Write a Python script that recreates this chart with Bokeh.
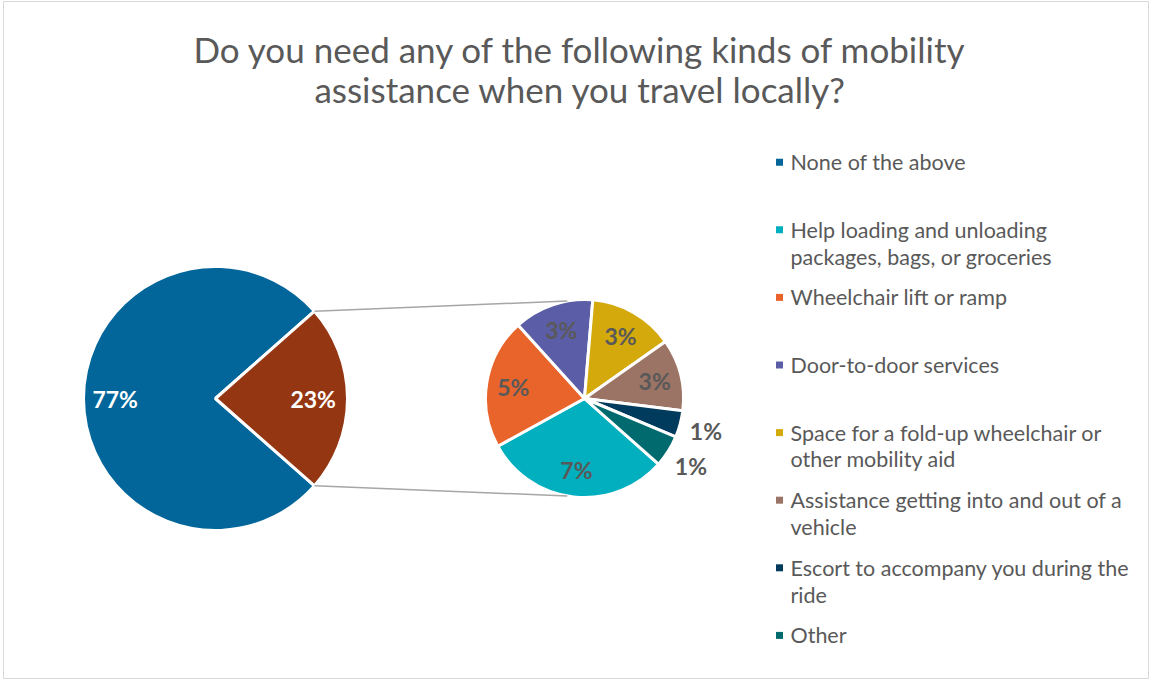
import numpy as np
from bokeh.plotting import figure
from bokeh.models import Range1d
from bokeh.embed import file_html
from bokeh.resources import INLINE
from bokeh.core.properties import value

# ---------------- data ----------------
title_lines = ["Do you need any of the following kinds of mobility",
               "assistance when you travel locally?"]
main_labels = ["None of the above", "Any kind of assistance"]
main_values = [77, 23]
main_colors = ["#03669a", "#943612"]

sub_labels = ["Help loading and unloading\npackages, bags, or groceries",
              "Wheelchair lift or ramp",
              "Door-to-door services",
              "Space for a fold-up wheelchair or\nother mobility aid",
              "Assistance getting into and out of a\nvehicle",
              "Escort to accompany you during the\nride",
              "Other"]
sub_values = [7.0, 4.9, 3.0, 3.2, 2.7, 1.0, 1.2]
sub_colors = ["#02afbf", "#e8642b", "#5b5ea6", "#d4a90c", "#9c7465", "#003a5c", "#006a6e"]

legend_labels = [main_labels[0]] + sub_labels
legend_colors = [main_colors[0]] + sub_colors

# ---------------- layout helpers ----------------
W, H = 1151, 681
def px(X):  # reference pixel x -> data x
    return X
def py(Y):  # reference pixel y -> data y
    return H - Y

FONT = "Lato"
GREY = "#595959"

p = figure(width=W, height=H, x_range=Range1d(0, W), y_range=Range1d(0, H),
           output_backend="svg", toolbar_location=None, min_border=0,
           x_axis_type=None, y_axis_type=None)
p.grid.visible = False
p.outline_line_color = None
p.background_fill_color = "white"
p.border_fill_color = "white"

# chart border
p.rect(x=[W / 2], y=[H / 2 + 1], width=W - 6, height=H - 4,
       fill_color=None, line_color="#d9d9d9", line_width=1)

# ---------------- title ----------------
p.text(x=[px(580), px(580)], y=[py(48), py(88)], text=title_lines,
       text_font=value(FONT), text_font_size="35px", text_color=GREY,
       text_align="center", text_baseline="middle")

# ---------------- main pie ----------------
cx1, cy1, r1 = px(215), py(398), 132
mtot = float(sum(main_values))
a_other = main_values[1] / mtot * 2 * np.pi
m_start = [a_other / 2, -a_other / 2]
m_end = [2 * np.pi - a_other / 2, a_other / 2]
p.wedge(x=cx1, y=cy1, radius=r1, start_angle=m_start, end_angle=m_end,
        fill_color=main_colors, line_color="white", line_width=3)
m_mid = [(s + e) / 2 for s, e in zip(m_start, m_end)]
m_r = [0.76 * r1, 0.74 * r1]
p.text(x=[cx1 + rr * np.cos(a) for rr, a in zip(m_r, m_mid)],
       y=[cy1 + rr * np.sin(a) for rr, a in zip(m_r, m_mid)],
       text=[f"{v:.0f}%" for v in main_values],
       text_font=value(FONT), text_font_size="23px", text_font_style="bold",
       text_color="white", text_align="center", text_baseline="middle")

# ---------------- secondary pie ----------------
cx2, cy2, r2 = px(584), py(398), 99
stot = float(sum(sub_values))
s0 = np.deg2rad(-41.6)
cum = np.cumsum([0] + sub_values) / stot * 2 * np.pi
s_start = [s0 - cum[i + 1] for i in range(len(sub_values))]
s_end = [s0 - cum[i] for i in range(len(sub_values))]
p.wedge(x=cx2, y=cy2, radius=r2, start_angle=s_start, end_angle=s_end,
        fill_color=sub_colors, line_color="white", line_width=3)
s_mid = [(s + e) / 2 for s, e in zip(s_start, s_end)]
s_r = [(0.73 if v >= 2 else 1.27) * r2 for v in sub_values]
p.text(x=[cx2 + rr * np.cos(a) for rr, a in zip(s_r, s_mid)],
       y=[cy2 + rr * np.sin(a) for rr, a in zip(s_r, s_mid)],
       text=[f"{v:.0f}%" for v in sub_values],
       text_font=value(FONT), text_font_size="23px", text_font_style="bold",
       text_color=GREY, text_align="center", text_baseline="middle")

# ---------------- connector lines ----------------
t_top, t_bot = np.deg2rad(100), np.deg2rad(260)
p.segment(x0=[cx1 + r1 * np.cos(a_other / 2), cx1 + r1 * np.cos(-a_other / 2)],
          y0=[cy1 + r1 * np.sin(a_other / 2), cy1 + r1 * np.sin(-a_other / 2)],
          x1=[cx2 + r2 * np.cos(t_top), cx2 + r2 * np.cos(t_bot)],
          y1=[cy2 + r2 * np.sin(t_top), cy2 + r2 * np.sin(t_bot)],
          line_color="#a6a6a6", line_width=1.5)

# ---------------- legend ----------------
leg_x_sq, leg_x_tx = px(779), px(790)
leg_y0, leg_dy, line_dy = 161.7, 67.6, 26.7
sq_x, sq_y, tx_x, tx_y, tx_t = [], [], [], [], []
for i, (lab, col) in enumerate(zip(legend_labels, legend_colors)):
    yy = leg_y0 + i * leg_dy
    sq_x.append(leg_x_sq)
    sq_y.append(py(yy))
    for j, line in enumerate(lab.split("\n")):
        tx_x.append(leg_x_tx)
        tx_y.append(py(yy + j * line_dy))
        tx_t.append(line)
p.rect(x=sq_x, y=sq_y, width=7, height=7, fill_color=legend_colors, line_color=None)
p.text(x=tx_x, y=tx_y, text=tx_t, text_font=value(FONT), text_font_size="21.5px",
       text_color=GREY, text_align="left", text_baseline="middle")

open("out.html", "w").write(file_html(p, INLINE))
